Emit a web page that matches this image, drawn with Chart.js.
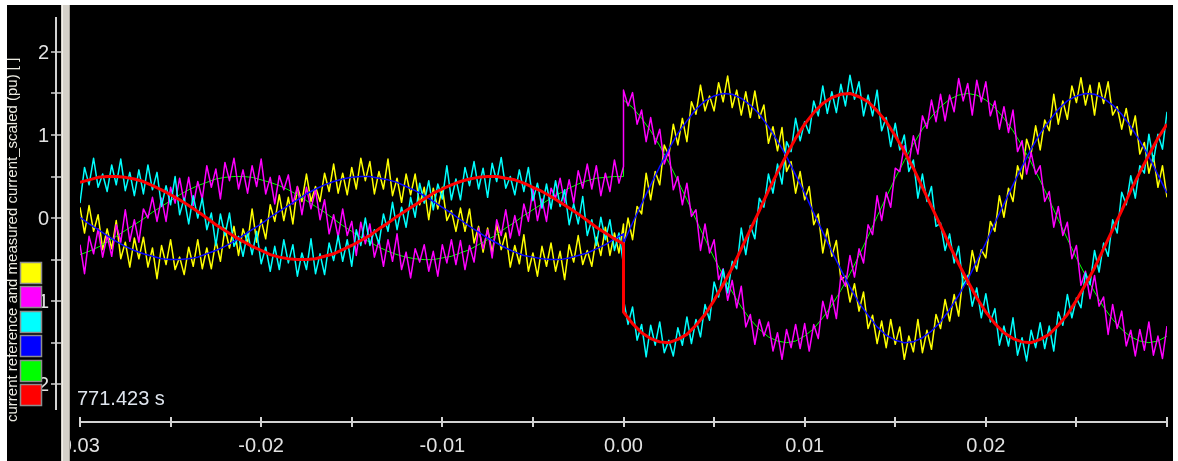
<!DOCTYPE html>
<html>
<head>
<meta charset="utf-8">
<title>Scope view</title>
<script src="https://cdn.jsdelivr.net/npm/chart.js@4.4.0/dist/chart.umd.min.js"></script>
<style>
  html, body { margin: 0; padding: 0; background: #ffffff; }
  canvas { display: block; }
</style>
</head>
<body>
<canvas id="scopeChart" width="1178" height="461"></canvas>
<script>
// Sample grid (seconds). Every trace is stored as a "pre" part (t <= 0)
// and a "post" part (t >= 0), so the step at t = 0 stays vertical.
var T_START = -0.03;
var NOISY_DT = 0.00025;
var SMOOTH_DT = 0.0005;

// Measured (noisy) phase currents
var yellowPre = [
    0.13, -0.18, 0.15, -0.16, 0.04, -0.38, -0.13, -0.37, -0.03, -0.49,
    -0.29, -0.59, -0.24, -0.49, -0.23, -0.59, -0.36, -0.73, -0.33, -0.56,
    -0.26, -0.62, -0.47, -0.68, -0.35, -0.58, -0.26, -0.61, -0.36, -0.61,
    -0.27, -0.52, -0.12, -0.36, -0.10, -0.45, -0.13, -0.30, 0.11, -0.29,
    -0.02, -0.25, 0.16, -0.04, 0.28, -0.03, 0.25, -0.07, 0.38, 0.20,
    0.53, 0.20, 0.38, 0.20, 0.54, 0.32, 0.65, 0.30, 0.54, 0.28,
    0.61, 0.35, 0.72, 0.45, 0.68, 0.29, 0.56, 0.35, 0.71, 0.27,
    0.48, 0.19, 0.53, 0.28, 0.53, 0.16, 0.37, -0.02, 0.36, 0.11,
    0.37, -0.03, 0.09, -0.16, 0.12, -0.16, 0.11, -0.30, -0.10, -0.41,
    -0.12, -0.42, -0.08, -0.38, -0.18, -0.59, -0.33, -0.55, -0.20, -0.64,
    -0.42, -0.70, -0.34, -0.58, -0.30, -0.64, -0.40, -0.74, -0.32, -0.53,
    -0.21, -0.56, -0.39, -0.58, -0.23, -0.45, -0.11, -0.45, -0.18, -0.42,
    -0.07
];
var yellowPost = [
    -0.35, 0.00, -0.26, 0.14, 0.05, 0.54, 0.22, 0.56, 0.40, 0.88,
    0.75, 1.13, 0.88, 1.20, 0.92, 1.40, 1.25, 1.60, 1.29, 1.47,
    1.29, 1.63, 1.40, 1.71, 1.33, 1.54, 1.24, 1.52, 1.21, 1.53,
    1.20, 1.36, 0.90, 1.10, 0.81, 1.09, 0.56, 0.68, 0.30, 0.56,
    0.22, 0.38, -0.08, 0.05, -0.42, -0.13, -0.46, -0.27, -0.74, -0.70,
    -1.01, -0.79, -1.12, -0.89, -1.33, -1.17, -1.51, -1.24, -1.56, -1.22,
    -1.52, -1.31, -1.70, -1.42, -1.61, -1.22, -1.62, -1.35, -1.58, -1.16,
    -1.33, -0.98, -1.24, -0.92, -1.18, -0.68, -0.80, -0.39, -0.64, -0.38,
    -0.48, -0.04, -0.16, 0.27, 0.01, 0.36, 0.20, 0.63, 0.47, 0.95,
    0.78, 1.11, 0.82, 1.18, 1.05, 1.49, 1.13, 1.41, 1.19, 1.59,
    1.39, 1.69, 1.36, 1.60, 1.24, 1.63, 1.38, 1.64, 1.24, 1.34,
    1.07, 1.32, 1.00, 1.23, 0.77, 0.91, 0.54, 0.75, 0.37, 0.63,
    0.25
];
var magentaPre = [
    -0.32, -0.67, -0.22, -0.43, -0.13, -0.47, -0.21, -0.46, -0.08, -0.29,
    0.10, -0.28, -0.02, -0.29, 0.11, 0.00, 0.25, -0.04, 0.24, -0.04,
    0.37, 0.18, 0.48, 0.19, 0.49, 0.15, 0.44, 0.23, 0.63, 0.37,
    0.59, 0.23, 0.67, 0.45, 0.72, 0.35, 0.58, 0.30, 0.63, 0.38,
    0.71, 0.29, 0.49, 0.17, 0.51, 0.34, 0.52, 0.17, 0.38, 0.04,
    0.37, 0.11, 0.34, -0.02, 0.22, -0.19, 0.04, -0.23, 0.11, -0.21,
    -0.04, -0.45, -0.05, -0.31, -0.07, -0.47, -0.27, -0.58, -0.26, -0.52,
    -0.19, -0.62, -0.41, -0.72, -0.37, -0.53, -0.32, -0.64, -0.40, -0.70,
    -0.32, -0.54, -0.26, -0.56, -0.27, -0.62, -0.33, -0.53, -0.12, -0.37,
    -0.14, -0.48, -0.02, -0.21, 0.10, -0.24, 0.03, -0.21, 0.17, -0.04,
    0.35, -0.03, 0.23, -0.04, 0.36, 0.24, 0.48, 0.19, 0.46, 0.18,
    0.57, 0.36, 0.65, 0.35, 0.63, 0.27, 0.54, 0.32, 0.70, 0.42,
    0.62
];
var magentaPost = [
    1.54, 1.35, 1.51, 1.13, 1.30, 0.92, 1.21, 0.89, 1.07, 0.65,
    0.82, 0.34, 0.50, 0.16, 0.42, 0.02, 0.10, -0.39, -0.07, -0.42,
    -0.26, -0.74, -0.61, -0.99, -0.75, -1.08, -0.82, -1.31, -1.16, -1.52,
    -1.22, -1.42, -1.25, -1.60, -1.38, -1.70, -1.34, -1.56, -1.28, -1.57,
    -1.27, -1.60, -1.28, -1.45, -1.00, -1.21, -0.93, -1.21, -0.69, -0.82,
    -0.45, -0.71, -0.37, -0.54, -0.08, -0.20, 0.27, -0.03, 0.31, 0.13,
    0.60, 0.56, 0.87, 0.65, 0.99, 0.77, 1.23, 1.08, 1.42, 1.16,
    1.49, 1.17, 1.48, 1.28, 1.68, 1.41, 1.62, 1.24, 1.66, 1.40,
    1.64, 1.23, 1.41, 1.07, 1.34, 1.03, 1.30, 0.80, 0.93, 0.53,
    0.79, 0.53, 0.63, 0.20, 0.32, -0.11, 0.14, -0.21, -0.05, -0.49,
    -0.33, -0.81, -0.64, -0.97, -0.69, -1.06, -0.95, -1.40, -1.04, -1.33,
    -1.12, -1.54, -1.35, -1.66, -1.34, -1.59, -1.25, -1.65, -1.42, -1.69,
    -1.30
];
var cyanPre = [
    0.18, 0.61, 0.40, 0.72, 0.37, 0.53, 0.32, 0.64, 0.40, 0.71,
    0.33, 0.55, 0.27, 0.58, 0.29, 0.64, 0.34, 0.55, 0.14, 0.39,
    0.16, 0.50, 0.04, 0.24, -0.07, 0.27, 0.00, 0.24, -0.14, 0.06,
    -0.33, 0.05, -0.21, 0.06, -0.34, -0.22, -0.46, -0.17, -0.44, -0.16,
    -0.55, -0.35, -0.64, -0.34, -0.62, -0.26, -0.54, -0.32, -0.70, -0.42,
    -0.62, -0.25, -0.67, -0.43, -0.68, -0.30, -0.51, -0.21, -0.52, -0.26,
    -0.58, -0.14, -0.33, 0.00, -0.33, -0.14, -0.31, 0.05, -0.16, 0.19,
    -0.14, 0.13, -0.11, 0.25, 0.01, 0.42, 0.18, 0.45, 0.10, 0.41,
    0.23, 0.63, 0.22, 0.47, 0.22, 0.61, 0.39, 0.68, 0.35, 0.60,
    0.25, 0.66, 0.44, 0.73, 0.36, 0.50, 0.28, 0.58, 0.32, 0.61,
    0.21, 0.42, 0.12, 0.41, 0.11, 0.45, 0.14, 0.34, -0.08, 0.17,
    -0.07, 0.26, -0.21, -0.02, -0.33, 0.01, -0.26, -0.02, -0.39, -0.18,
    -0.56
];
var cyanPost = [
    -0.98, -1.28, -1.07, -1.47, -1.28, -1.67, -1.29, -1.53, -1.25, -1.62,
    -1.47, -1.66, -1.32, -1.53, -1.19, -1.51, -1.22, -1.43, -1.04, -1.23,
    -0.77, -0.95, -0.62, -0.90, -0.52, -0.61, -0.12, -0.44, -0.09, -0.25,
    0.24, 0.13, 0.53, 0.30, 0.65, 0.41, 0.92, 0.80, 1.20, 0.93,
    1.16, 1.02, 1.41, 1.23, 1.59, 1.26, 1.52, 1.27, 1.61, 1.35,
    1.72, 1.43, 1.64, 1.23, 1.48, 1.23, 1.54, 1.05, 1.21, 0.86,
    1.14, 0.82, 1.00, 0.56, 0.70, 0.24, 0.53, 0.20, 0.38, -0.10,
    -0.06, -0.39, -0.19, -0.54, -0.34, -0.82, -0.69, -1.06, -0.84, -1.20,
    -0.91, -1.25, -1.09, -1.53, -1.30, -1.54, -1.20, -1.65, -1.44, -1.72,
    -1.35, -1.56, -1.26, -1.57, -1.30, -1.60, -1.13, -1.29, -0.92, -1.20,
    -0.96, -1.08, -0.66, -0.80, -0.39, -0.65, -0.30, -0.46, -0.02, -0.18,
    0.31, 0.16, 0.51, 0.24, 0.63, 0.54, 1.01, 0.68, 1.01, 0.83,
    1.28
];

// Reference (smooth) phase currents
var bluePre = [
    0.01, -0.07, -0.14, -0.21, -0.28, -0.34, -0.39, -0.43, -0.46, -0.49,
    -0.50, -0.50, -0.49, -0.47, -0.43, -0.39, -0.34, -0.28, -0.21, -0.14,
    -0.07, 0.01, 0.08, 0.15, 0.22, 0.29, 0.35, 0.40, 0.44, 0.47,
    0.49, 0.50, 0.50, 0.48, 0.46, 0.43, 0.38, 0.33, 0.27, 0.20,
    0.13, 0.06, -0.02, -0.10, -0.17, -0.24, -0.30, -0.36, -0.41, -0.45,
    -0.47, -0.49, -0.50, -0.50, -0.48, -0.45, -0.42, -0.37, -0.32, -0.25,
    -0.19
];
var blueAfter = [
    -0.30, -0.06, 0.17, 0.40, 0.62, 0.83, 1.02, 1.17, 1.31, 1.41,
    1.47, 1.50, 1.49, 1.44, 1.36, 1.25, 1.10, 0.93, 0.74, 0.52,
    0.30, 0.06, -0.17, -0.40, -0.62, -0.83, -1.02, -1.17, -1.31, -1.41,
    -1.47, -1.50, -1.49, -1.44, -1.36, -1.25, -1.10, -0.93, -0.74, -0.52,
    -0.30, -0.06, 0.17, 0.40, 0.62, 0.83, 1.02, 1.17, 1.31, 1.41,
    1.47, 1.50, 1.49, 1.44, 1.36, 1.25, 1.10, 0.93, 0.74, 0.52,
    0.30
];
var greenPre = [
    -0.44, -0.40, -0.35, -0.29, -0.22, -0.15, -0.08, -0.01, 0.07, 0.14,
    0.21, 0.28, 0.34, 0.39, 0.43, 0.47, 0.49, 0.50, 0.50, 0.49,
    0.46, 0.43, 0.39, 0.34, 0.28, 0.21, 0.14, 0.07, -0.01, -0.09,
    -0.16, -0.23, -0.29, -0.35, -0.40, -0.44, -0.47, -0.49, -0.50, -0.50,
    -0.48, -0.46, -0.42, -0.38, -0.32, -0.26, -0.20, -0.12, -0.05, 0.03,
    0.10, 0.17, 0.24, 0.30, 0.36, 0.41, 0.45, 0.48, 0.49, 0.50,
    0.50
];
var greenAfter = [
    1.42, 1.33, 1.20, 1.05, 0.87, 0.67, 0.45, 0.22, -0.02, -0.25,
    -0.48, -0.69, -0.89, -1.07, -1.22, -1.34, -1.43, -1.48, -1.50, -1.48,
    -1.42, -1.33, -1.20, -1.05, -0.87, -0.67, -0.45, -0.22, 0.02, 0.25,
    0.48, 0.69, 0.89, 1.07, 1.22, 1.34, 1.43, 1.48, 1.50, 1.48,
    1.42, 1.33, 1.20, 1.05, 0.87, 0.67, 0.45, 0.22, -0.02, -0.25,
    -0.48, -0.69, -0.89, -1.07, -1.22, -1.34, -1.43, -1.48, -1.50, -1.48,
    -1.42
];
var redPre = [
    0.43, 0.46, 0.49, 0.50, 0.50, 0.49, 0.47, 0.44, 0.39, 0.34,
    0.28, 0.22, 0.15, 0.08, 0.00, -0.08, -0.15, -0.22, -0.28, -0.34,
    -0.39, -0.44, -0.47, -0.49, -0.50, -0.50, -0.49, -0.46, -0.43, -0.38,
    -0.33, -0.27, -0.21, -0.13, -0.06, 0.02, 0.09, 0.16, 0.23, 0.30,
    0.35, 0.40, 0.44, 0.47, 0.49, 0.50, 0.50, 0.48, 0.46, 0.42,
    0.37, 0.32, 0.26, 0.19, 0.12, 0.05, -0.03, -0.11, -0.18, -0.25,
    -0.31
];
var redAfter = [
    -1.13, -1.27, -1.38, -1.45, -1.49, -1.50, -1.46, -1.40, -1.29, -1.16,
    -0.99, -0.80, -0.60, -0.37, -0.14, 0.09, 0.33, 0.55, 0.76, 0.96,
    1.13, 1.27, 1.38, 1.45, 1.49, 1.50, 1.46, 1.40, 1.29, 1.16,
    0.99, 0.80, 0.60, 0.37, 0.14, -0.09, -0.33, -0.55, -0.76, -0.96,
    -1.13, -1.27, -1.38, -1.45, -1.49, -1.50, -1.46, -1.40, -1.29, -1.16,
    -0.99, -0.80, -0.60, -0.37, -0.14, 0.09, 0.33, 0.55, 0.76, 0.96,
    1.13
];

// Axis ticks and labels
var xTickValues = [-0.03, -0.025, -0.02, -0.015, -0.01, -0.005, 0, 0.005, 0.01, 0.015, 0.02, 0.025, 0.03];
var xTickLabels = ['-0.03', '', '-0.02', '', '-0.01', '', '0.00', '', '0.01', '', '0.02', '', ''];
var yTickValues = [2, 1.5, 1, 0.5, 0, -0.5, -1, -1.5, -2];
var yTickLabels = ['2', '', '1', '', '0', '', '-1', '', '-2'];
var legendColors = ['#ffff00', '#ff00ff', '#00ffff', '#0000ff', '#00ff00', '#ff0000'];
var yAxisTitle = 'current reference and measured current_scaled (pu) [ ]';
var timeStamp = '771.423 s';

var FONT = '"Liberation Sans", Arial, sans-serif';

function toPoints(pre, post, dt) {
    var pts = [];
    pre.forEach(function(v, i) { pts.push({ x: T_START + i * dt, y: v }); });
    post.forEach(function(v, i) { pts.push({ x: i * dt, y: v }); });
    return pts;
}

// Draws the scope frame: black panel, axes, splitter bar, colour keys
var scopeFrame = {
    id: 'scopeFrame',
    beforeDraw: function(chart) {
        var ctx = chart.ctx;
        ctx.save();
        ctx.fillStyle = '#ffffff';
        ctx.fillRect(0, 0, chart.width, chart.height);
        ctx.fillStyle = '#000000';
        ctx.fillRect(7, 5, 1166, 456);
        ctx.restore();
    },
    afterDraw: function(chart) {
        var ctx = chart.ctx;
        var xs = chart.scales.x;
        var ys = chart.scales.y;
        var area = chart.chartArea;
        ctx.save();

        // y axis line + ticks
        ctx.strokeStyle = '#d2d2d2';
        ctx.lineWidth = 2;
        ctx.beginPath();
        ctx.moveTo(56, area.top);
        ctx.lineTo(56, area.bottom);
        ctx.stroke();
        ctx.lineWidth = 1.5;
        ctx.font = '20px ' + FONT;
        ctx.fillStyle = '#e2e2e2';
        ctx.textAlign = 'right';
        ctx.textBaseline = 'alphabetic';
        yTickValues.forEach(function(v, i) {
            var py = Math.round(ys.getPixelForValue(v));
            ctx.beginPath();
            ctx.moveTo(51, py);
            ctx.lineTo(62, py);
            ctx.stroke();
            if (yTickLabels[i]) ctx.fillText(yTickLabels[i], 49, py + 7);
        });

        // x axis line + ticks
        var axisY = 422;
        ctx.lineWidth = 2;
        ctx.beginPath();
        ctx.moveTo(xs.getPixelForValue(xTickValues[0]), axisY);
        ctx.lineTo(xs.getPixelForValue(xTickValues[xTickValues.length - 1]), axisY);
        ctx.stroke();
        xTickValues.forEach(function(v) {
            var px = Math.round(xs.getPixelForValue(v));
            ctx.beginPath();
            ctx.moveTo(px, axisY - 5);
            ctx.lineTo(px, axisY + 5);
            ctx.stroke();
        });
        ctx.save();
        ctx.beginPath();
        ctx.rect(70, 430, 1100, 31);
        ctx.clip();
        ctx.textAlign = 'center';
        xTickValues.forEach(function(v, i) {
            if (!xTickLabels[i]) return;
            ctx.fillText(xTickLabels[i], xs.getPixelForValue(v) - (i === 0 ? 3 : 0), 452);
        });
        ctx.restore();

        // time stamp
        ctx.textAlign = 'left';
        ctx.fillStyle = '#dfe5ee';
        ctx.fillText(timeStamp, 77, 405);

        // splitter bar
        ctx.fillStyle = '#d4d0c8';
        ctx.fillRect(61, 5, 9, 456);
        ctx.fillStyle = '#f2f0ea';
        ctx.fillRect(62, 5, 1, 456);
        ctx.fillStyle = '#a6a29a';
        ctx.fillRect(69, 5, 1, 456);

        // colour keys
        legendColors.forEach(function(c, i) {
            var top = Math.round(262 + i * 24.4);
            ctx.fillStyle = c;
            ctx.fillRect(20, top, 22, 22);
            ctx.strokeStyle = '#8e8e8e';
            ctx.lineWidth = 1.5;
            ctx.strokeRect(20.5, top + 0.5, 21, 21);
        });

        // rotated axis title (its top edge is cut by the white frame)
        ctx.save();
        ctx.translate(17, 422);
        ctx.rotate(-Math.PI / 2);
        ctx.font = '15px ' + FONT;
        ctx.fillStyle = '#ecebe2';
        ctx.textAlign = 'left';
        ctx.fillText(yAxisTitle, 0, 0);
        ctx.restore();

        // white frame edges
        ctx.fillStyle = '#ffffff';
        ctx.fillRect(0, 0, 7, chart.height);
        ctx.fillRect(0, 0, chart.width, 5);
        ctx.fillRect(1173, 0, 5, chart.height);
        ctx.restore();
    }
};

var ctx = document.getElementById('scopeChart').getContext('2d');
var scopeChart = new Chart(ctx, {
    type: 'line',
    data: {
        datasets: [
            { label: 'phase a', data: toPoints(yellowPre, yellowPost, NOISY_DT), borderColor: '#ffff00', borderWidth: 1.5, order: 7 },
            { label: 'phase b', data: toPoints(magentaPre, magentaPost, NOISY_DT), borderColor: '#ff00ff', borderWidth: 1.5, order: 5 },
            { label: 'phase c', data: toPoints(cyanPre, cyanPost, NOISY_DT), borderColor: '#00ffff', borderWidth: 1.5, order: 4 },
            { label: 'ref a', data: toPoints(bluePre, blueAfter, SMOOTH_DT), borderColor: '#0a0aff', borderWidth: 1.5, order: 3 },
            // green sits under the magenta trace, so it only peeks through
            { label: 'ref b', data: toPoints(greenPre, greenAfter, SMOOTH_DT), borderColor: '#00ff00', borderWidth: 1, order: 6 },
            { label: 'ref c', data: toPoints(redPre, redAfter, SMOOTH_DT), borderColor: '#ff0000', borderWidth: 3, order: 1 }
        ]
    },
    options: {
        responsive: false,
        animation: false,
        events: [],
        layout: { padding: { left: 80, right: 11, top: 17, bottom: 51 } },
        elements: {
            point: { radius: 0 },
            line: { tension: 0, borderJoinStyle: 'round', fill: false }
        },
        plugins: {
            legend: { display: false },
            tooltip: { enabled: false }
        },
        scales: {
            x: { type: 'linear', min: -0.03, max: 0.03, display: false },
            y: { type: 'linear', min: -2.31, max: 2.42, display: false }
        }
    },
    plugins: [scopeFrame]
});
</script>
</body>
</html>
